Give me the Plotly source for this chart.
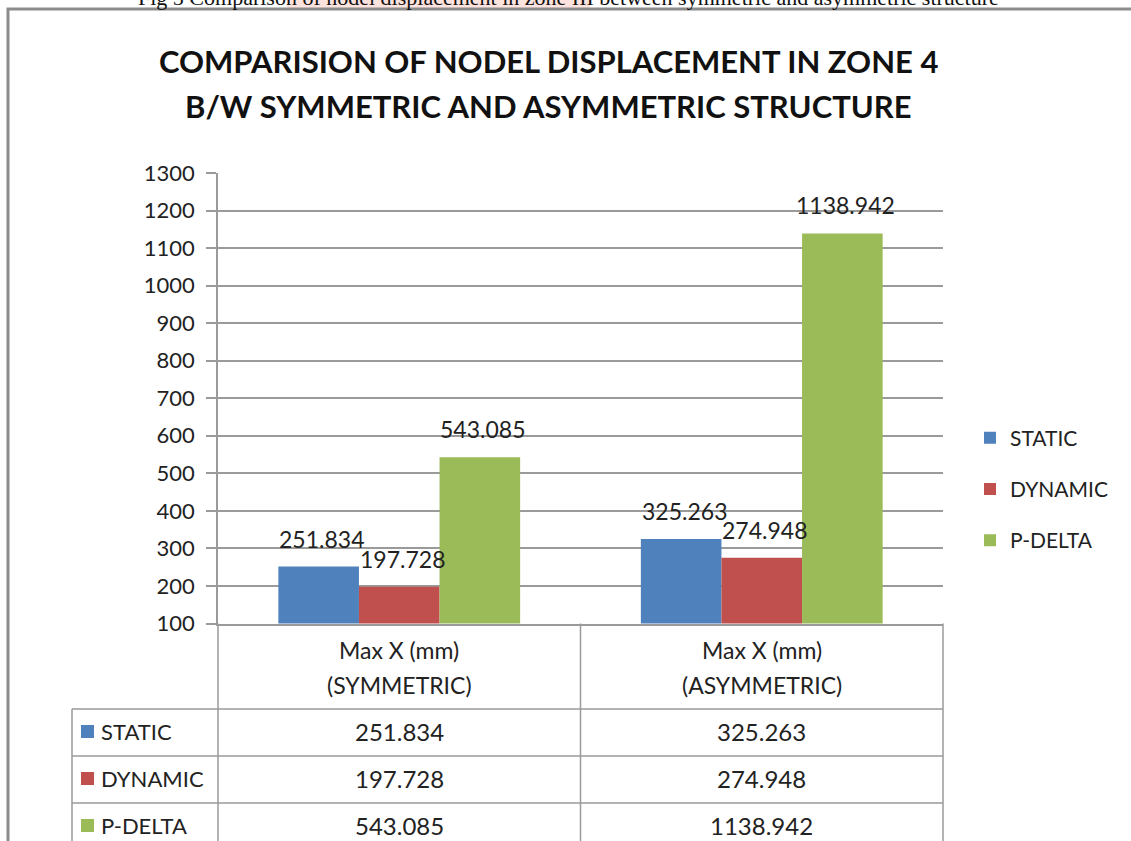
import plotly.graph_objects as go

# chart data
categories = ["Max X (mm)<br>(SYMMETRIC)", "Max X (mm)<br>(ASYMMETRIC)"]
series_names = ["STATIC", "DYNAMIC", "P-DELTA"]
static_vals = [251.834, 325.263]
dynamic_vals = [197.728, 274.948]
pdelta_vals = [543.085, 1138.942]
y_ticks = [100, 200, 300, 400, 500, 600, 700, 800, 900, 1000, 1100, 1200, 1300]

title_text = "COMPARISION OF NODEL DISPLACEMENT IN ZONE 4<br>B/W SYMMETRIC AND ASYMMETRIC STRUCTURE"
caption_text = "Fig 5 Comparison of nodel displacement in zone III between symmetric and asymmetric structure"

colors = ["#4F81BD", "#C0504D", "#9BBB59"]
series_vals = [static_vals, dynamic_vals, pdelta_vals]

W, H = 1131, 841
FONT = "Lato"
GRID = "#9a9a9a"
TXT = "#222"


def px(x):
    return x / W


def py(y):
    return 1 - y / H


PLOT_L, PLOT_R, PLOT_T, PLOT_B = 218, 943, 173, 623.5
cat_px = (PLOT_R - PLOT_L) / len(categories)
BARGAP = 0.333
bar_px = cat_px * (1 - BARGAP) / len(series_names)

fig = go.Figure()

for i, (name, vals) in enumerate(zip(series_names, series_vals)):
    fig.add_trace(go.Bar(
        x=categories, y=vals, name=name,
        marker=dict(color=colors[i], line=dict(width=0)),
        legendgroup=name,
        hoverinfo="skip",
    ))
    # data labels above bars
    for cat, v in zip(categories, vals):
        fig.add_annotation(
            x=cat, y=v, xref="x", yref="y",
            text=f"{v:.3f}", showarrow=False,
            xshift=(i - 1) * bar_px + 3, yshift=12, yanchor="bottom",
            font=dict(family=FONT, size=23, color=TXT),
        )

shapes = []
# outer frame
shapes.append(dict(type="rect", xref="paper", yref="paper",
                   x0=px(8), x1=px(1145), y0=py(860), y1=py(9),
                   line=dict(color="#8c8c8c", width=3), fillcolor="rgba(0,0,0,0)"))
# pink highlight behind the caption
shapes.append(dict(type="rect", xref="paper", yref="paper", layer="below",
                   x0=px(287), x1=px(590), y0=py(8), y1=py(-5),
                   line=dict(width=0), fillcolor="#fde3de"))

# data table lines
line_style = dict(color=GRID, width=1.5)
for x in [PLOT_L, PLOT_L + cat_px, PLOT_R]:
    shapes.append(dict(type="line", xref="paper", yref="paper",
                       x0=px(x), x1=px(x), y0=py(PLOT_B), y1=py(860), line=line_style))
shapes.append(dict(type="line", xref="paper", yref="paper",
                   x0=px(72), x1=px(72), y0=py(709), y1=py(860), line=line_style))
row_tops = [709, 756, 803]
for y in row_tops:
    shapes.append(dict(type="line", xref="paper", yref="paper",
                       x0=px(72), x1=px(PLOT_R), y0=py(y), y1=py(y), line=line_style))

annotations = []
# header cells
for cat in categories:
    for k, part in enumerate(cat.split("<br>")):
        annotations.append(dict(
            x=cat, xref="x", y=py(650 + 35 * k), yref="paper",
            text=part, showarrow=False, yanchor="middle",
            font=dict(family=FONT, size=23, color=TXT)))

# rows: legend key + values
for r, (name, vals) in enumerate(zip(series_names, series_vals)):
    yc = row_tops[r] + 22
    shapes.append(dict(type="rect", xref="paper", yref="paper",
                       x0=px(81), x1=px(94), y0=py(yc + 7), y1=py(yc - 6),
                       line=dict(width=0), fillcolor=colors[r]))
    annotations.append(dict(
        x=px(99), xref="paper", y=py(yc), yref="paper",
        text=name, showarrow=False, xanchor="left", yanchor="middle",
        font=dict(family=FONT, size=22, color=TXT)))
    for cat, v in zip(categories, vals):
        annotations.append(dict(
            x=cat, xref="x", y=py(yc), yref="paper",
            text=f"{v:.3f}", showarrow=False, yanchor="middle",
            font=dict(family=FONT, size=24, color=TXT)))

# title
for k, part in enumerate(title_text.split("<br>")):
    annotations.append(dict(
        x=px(548), xref="paper", y=py(61 + 45 * k), yref="paper",
        text=f"<b>{part}</b>", showarrow=False, yanchor="middle",
        font=dict(family=FONT, size=31, color="#111")))

# partially cut caption at the very top
annotations.append(dict(
    x=px(568), xref="paper", y=py(-3), yref="paper",
    text=caption_text, showarrow=False, yanchor="middle",
    font=dict(family="Liberation Serif", size=22, color="#111")))

for a in annotations:
    fig.add_annotation(**a)

fig.update_layout(
    width=W, height=H,
    margin=dict(l=0, r=0, t=0, b=0, autoexpand=False),
    paper_bgcolor="white", plot_bgcolor="white",
    barmode="group", bargap=BARGAP, bargroupgap=0,
    shapes=shapes,
    showlegend=True,
    legend=dict(
        x=px(970), y=py(489), xanchor="left", yanchor="middle",
        font=dict(family=FONT, size=21, color=TXT),
        traceorder="grouped", tracegroupgap=21,
        bgcolor="rgba(0,0,0,0)",
    ),
    xaxis=dict(
        domain=[px(PLOT_L), px(PLOT_R)],
        showticklabels=False, ticks="",
        showline=True, linecolor=GRID, linewidth=1.5,
        showgrid=False, fixedrange=True,
    ),
    yaxis=dict(
        domain=[py(PLOT_B), py(PLOT_T)],
        range=[100, 1300], tickvals=y_ticks,
        ticks="outside", ticklen=10, tickcolor=GRID, tickwidth=1.5,
        ticklabelstandoff=7,
        showline=True, linecolor=GRID, linewidth=1.5,
        gridcolor=GRID, gridwidth=1.5, zeroline=False,
        tickfont=dict(family=FONT, size=22, color=TXT),
        fixedrange=True,
    ),
)

# the page has a default 8px body margin; drop it so the figure sits at (0, 0)
fig.write_html("out.html", config={"displayModeBar": False},
               post_script="document.body.style.margin='0px';")
